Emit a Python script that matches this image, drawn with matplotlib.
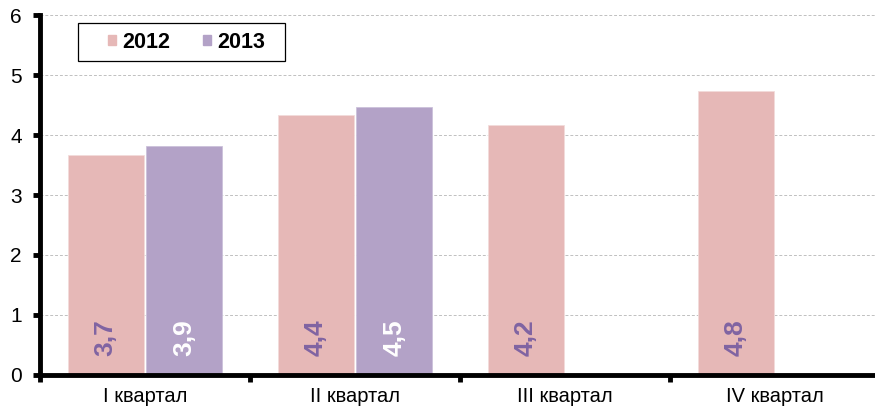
import numpy as np
import matplotlib.pyplot as plt
from matplotlib.patches import Patch, Rectangle

plt.rcParams["font.family"] = ["Liberation Sans", "DejaVu Sans"]

categories = ["I квартал", "II квартал", "III квартал", "IV квартал"]
values_2012 = [3.67, 4.34, 4.16, 4.73]
values_2013 = [3.82, 4.47, None, None]
labels_2012 = ["3,7", "4,4", "4,2", "4,8"]
labels_2013 = ["3,9", "4,5", None, None]

c2012 = "#E6B8B7"
c2013 = "#B3A2C7"
c_text = "#8064A2"

fig = plt.figure(figsize=(8.75, 4.12), dpi=100)
ax = fig.add_axes([40 / 875, 37 / 412, 840 / 875, 360 / 412])

x = np.arange(len(categories))
w = 0.36
off = 0.187

for i in range(len(categories)):
    if values_2012[i] is not None:
        ax.bar(x[i] - off, values_2012[i], w, color=c2012, edgecolor="#F2DCDB",
               linewidth=0.6, zorder=2)
        ax.text(x[i] - off, 0.63, labels_2012[i], rotation=90, ha="center", va="center",
                color=c_text, fontsize=19, fontweight="bold", zorder=3)
    if values_2013[i] is not None:
        ax.bar(x[i] + off, values_2013[i], w, color=c2013, edgecolor="#CCC1DA",
               linewidth=0.6, zorder=2)
        ax.text(x[i] + off, 0.63, labels_2013[i], rotation=90, ha="center", va="center",
                color="white", fontsize=19, fontweight="bold", zorder=3)

ax.set_xlim(-0.5, 3.5)
ax.set_ylim(0, 6)
ax.set_yticks(range(7))
ax.yaxis.grid(True, color="#C0C0C0", linestyle=(0, (3, 2)), linewidth=0.7, zorder=0)
ax.set_axisbelow(True)

ax.set_xticks(x)
ax.set_xticklabels(categories, fontsize=14.5)
ax.set_xticks(np.arange(-0.5, 4.0, 1.0), minor=True)
ax.tick_params(axis="x", which="major", length=0, pad=9)
ax.tick_params(axis="x", which="minor", length=5, width=3.5, direction="out")
ax.tick_params(axis="y", length=5, width=3.5, labelsize=15, pad=8)

for s in ["top", "right"]:
    ax.spines[s].set_visible(False)
for s in ["left", "bottom"]:
    ax.spines[s].set_linewidth(3.5)
ax.spines["bottom"].set_capstyle("projecting")

# legend frame drawn separately
ax.add_patch(Rectangle((0.0452, 0.872), 0.2464, 0.1056, transform=ax.transAxes,
                       facecolor="white", edgecolor="black", linewidth=0.9,
                       zorder=4, clip_on=False))
handles = [Patch(color=c2012, label="2012"), Patch(color=c2013, label="2013")]
leg = ax.legend(handles=handles, loc="center", bbox_to_anchor=(0.1744, 0.925),
                ncol=2, frameon=False, prop={"size": 15.5, "weight": "bold"},
                handlelength=0.37, handleheight=0.37, handletextpad=0.3,
                columnspacing=1.5, borderpad=0, borderaxespad=0)
leg.set_zorder(5)

fig.savefig("out.png", dpi=100)
